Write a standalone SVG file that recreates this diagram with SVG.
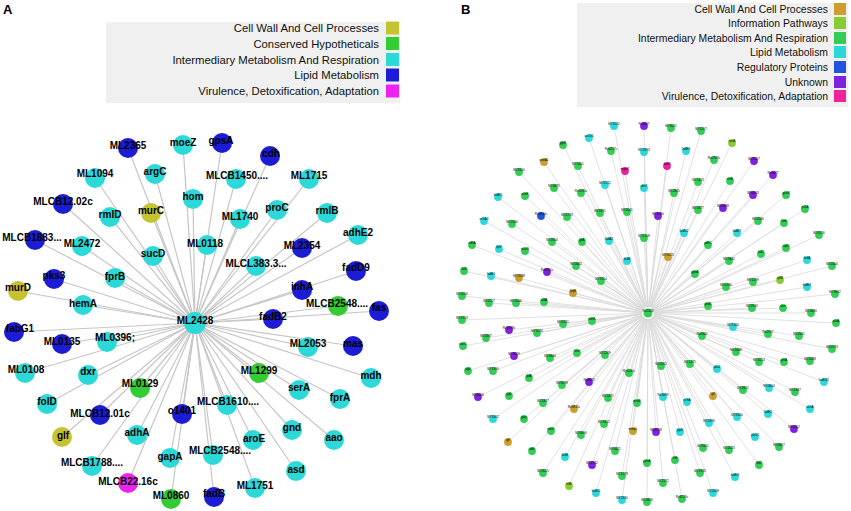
<svg xmlns="http://www.w3.org/2000/svg" width="851" height="511" viewBox="0 0 851 511">
<style>
.ea{stroke:#c6c6c6;stroke-width:1.2}
.eb{stroke:#d9d9d9;stroke-width:0.8}
.la{font-family:"Liberation Sans",Arial,sans-serif;font-weight:bold;font-size:10px;text-anchor:middle;fill:#000}
.lb{font-family:"Liberation Sans",Arial,sans-serif;font-size:3.2px;text-anchor:middle;fill:#000}
.lgA{font-family:"Liberation Sans",Arial,sans-serif;font-size:11.3px;text-anchor:end;fill:#111}
.lgB{font-family:"Liberation Sans",Arial,sans-serif;font-size:10.4px;text-anchor:end;fill:#111}
.pl{font-family:"Liberation Sans",Arial,sans-serif;font-weight:bold;font-size:13px;fill:#000}
.ol{fill:#c6c332}.gr{fill:#33cc33}.cy{fill:#2bd9d9}.bu{fill:#1c1cd6}.mg{fill:#ee22ee}
.Bo{fill:#c9a030}.Bl{fill:#88cc33}.Bg{fill:#33cc55}.Bc{fill:#2bd9d9}.Bb{fill:#2255dd}.Bp{fill:#8022dd}.Bm{fill:#ee2299}
.na circle{r:10px}
.nb circle{r:3.9px}
</style>
<rect width="851" height="511" fill="#fff"/>
<text class="pl" x="3" y="14">A</text>
<text class="pl" x="461" y="14">B</text>
<g id="legendA">
<rect x="106" y="22" width="294" height="81" fill="#f0f0f0"/>
<text class="lgA" x="379" y="32">Cell Wall And Cell Processes</text><rect x="386" y="21.5" width="13" height="13" class="ol"/>
<text class="lgA" x="379" y="47.5">Conserved Hypotheticals</text><rect x="386" y="37" width="13" height="13" class="gr"/>
<text class="lgA" x="379" y="63.5">Intermediary Metabolism And Respiration</text><rect x="386" y="53" width="13" height="13" class="cy"/>
<text class="lgA" x="379" y="79">Lipid Metabolism</text><rect x="386" y="68.5" width="13" height="13" class="bu"/>
<text class="lgA" x="379" y="95">Virulence, Detoxification, Adaptation</text><rect x="386" y="84.5" width="13" height="13" class="mg"/>
</g>
<g id="legendB">
<rect x="577" y="3" width="271" height="104" fill="#f0f0f0"/>
<text class="lgB" x="828" y="12.5">Cell Wall And Cell Processes</text><rect x="834" y="3" width="12" height="12" class="Bo"/>
<text class="lgB" x="828" y="26.5">Information Pathways</text><rect x="834" y="17" width="12" height="12" class="Bl"/>
<text class="lgB" x="828" y="41.5">Intermediary Metabolism And Respiration</text><rect x="834" y="32" width="12" height="12" class="Bg"/>
<text class="lgB" x="828" y="55.5">Lipid Metabolism</text><rect x="834" y="46" width="12" height="12" class="Bc"/>
<text class="lgB" x="828" y="70.5">Regulatory Proteins</text><rect x="834" y="61" width="12" height="12" class="Bb"/>
<text class="lgB" x="828" y="85.5">Unknown</text><rect x="834" y="76" width="12" height="12" class="Bp"/>
<text class="lgB" x="828" y="99.5">Virulence, Detoxification, Adaptation</text><rect x="834" y="90" width="12" height="12" class="Bm"/>
</g>
<g id="connectorsA" class="ea">
<line x1="195" y1="323" x2="128" y2="148"/><line x1="195" y1="323" x2="183" y2="145"/><line x1="195" y1="323" x2="222" y2="143"/><line x1="195" y1="323" x2="270" y2="156"/>
<line x1="195" y1="323" x2="95" y2="178"/><line x1="195" y1="323" x2="155" y2="174"/><line x1="195" y1="323" x2="236" y2="179"/><line x1="195" y1="323" x2="309" y2="179"/>
<line x1="195" y1="323" x2="193" y2="199"/><line x1="195" y1="323" x2="63" y2="204"/><line x1="195" y1="323" x2="110" y2="217"/><line x1="195" y1="323" x2="151" y2="213"/>
<line x1="195" y1="323" x2="240" y2="219"/><line x1="195" y1="323" x2="277" y2="210"/><line x1="195" y1="323" x2="327" y2="213"/><line x1="195" y1="323" x2="358" y2="235"/>
<line x1="195" y1="323" x2="35" y2="240"/><line x1="195" y1="323" x2="82" y2="246"/><line x1="195" y1="323" x2="207" y2="245"/><line x1="195" y1="323" x2="302" y2="248"/>
<line x1="195" y1="323" x2="153" y2="256"/><line x1="195" y1="323" x2="256" y2="266"/><line x1="195" y1="323" x2="356" y2="271"/><line x1="195" y1="323" x2="54" y2="279"/>
<line x1="195" y1="323" x2="115" y2="278"/><line x1="195" y1="323" x2="302" y2="290"/><line x1="195" y1="323" x2="338" y2="306"/><line x1="195" y1="323" x2="379" y2="311"/>
<line x1="195" y1="323" x2="18" y2="291"/><line x1="195" y1="323" x2="83" y2="305"/><line x1="195" y1="323" x2="273" y2="319"/><line x1="195" y1="323" x2="14" y2="332"/>
<line x1="195" y1="323" x2="62" y2="344"/><line x1="195" y1="323" x2="107" y2="342"/><line x1="195" y1="323" x2="308" y2="347"/><line x1="195" y1="323" x2="353" y2="346"/>
<line x1="195" y1="323" x2="25" y2="373"/><line x1="195" y1="323" x2="88" y2="375"/><line x1="195" y1="323" x2="140" y2="388"/><line x1="195" y1="323" x2="259" y2="373"/>
<line x1="195" y1="323" x2="371" y2="378"/><line x1="195" y1="323" x2="47" y2="404"/><line x1="195" y1="323" x2="299" y2="390"/><line x1="195" y1="323" x2="340" y2="399"/>
<line x1="195" y1="323" x2="100" y2="415"/><line x1="195" y1="323" x2="182" y2="414"/><line x1="195" y1="323" x2="227" y2="405"/><line x1="195" y1="323" x2="292" y2="430"/>
<line x1="195" y1="323" x2="62" y2="437"/><line x1="195" y1="323" x2="137" y2="435"/><line x1="195" y1="323" x2="253" y2="440"/><line x1="195" y1="323" x2="334" y2="440"/>
<line x1="195" y1="323" x2="92" y2="466"/><line x1="195" y1="323" x2="170" y2="458"/><line x1="195" y1="323" x2="213" y2="455"/><line x1="195" y1="323" x2="296" y2="471"/>
<line x1="195" y1="323" x2="128" y2="483"/><line x1="195" y1="323" x2="171" y2="499"/><line x1="195" y1="323" x2="214" y2="497"/><line x1="195" y1="323" x2="255" y2="488"/>
</g>
<g id="nodesA" class="na">
<g id="a_ML2365"><circle cx="128" cy="148" class="bu"/><text class="la" x="128" y="148.5">ML2365</text></g>
<g id="a_moeZ"><circle cx="183" cy="145" class="cy"/><text class="la" x="183" y="145.5">moeZ</text></g>
<g id="a_gpsA"><circle cx="222" cy="143" class="bu"/><text class="la" x="221" y="143.5">gpsA</text></g>
<g id="a_cdh"><circle cx="270" cy="156" class="bu"/><text class="la" x="271" y="156.5">cdh</text></g>
<g id="a_ML1094"><circle cx="95" cy="178" class="cy"/><text class="la" x="95" y="176.5">ML1094</text></g>
<g id="a_argC"><circle cx="155" cy="174" class="cy"/><text class="la" x="155" y="174.5">argC</text></g>
<g id="a_MLCB1450"><circle cx="236" cy="179" class="cy"/><text class="la" x="237" y="178.5">MLCB1450....</text></g>
<g id="a_ML1715"><circle cx="309" cy="179" class="cy"/><text class="la" x="309" y="178.5">ML1715</text></g>
<g id="a_hom"><circle cx="193" cy="199" class="cy"/><text class="la" x="193" y="199.5">hom</text></g>
<g id="a_MLCB1202c"><circle cx="63" cy="204" class="bu"/><text class="la" x="63" y="204.5">MLCB12.02c</text></g>
<g id="a_rmlD"><circle cx="110" cy="217" class="cy"/><text class="la" x="110" y="217.5">rmlD</text></g>
<g id="a_murC"><circle cx="151" cy="213" class="ol"/><text class="la" x="151" y="213.5">murC</text></g>
<g id="a_ML1740"><circle cx="240" cy="219" class="cy"/><text class="la" x="240" y="219.5">ML1740</text></g>
<g id="a_proC"><circle cx="277" cy="210" class="cy"/><text class="la" x="277" y="210.5">proC</text></g>
<g id="a_rmlB"><circle cx="327" cy="213" class="cy"/><text class="la" x="327" y="213.5">rmlB</text></g>
<g id="a_adhE2"><circle cx="358" cy="235" class="cy"/><text class="la" x="358" y="235.5">adhE2</text></g>
<g id="a_MLCB1883"><circle cx="35" cy="240" class="bu"/><text class="la" x="32" y="240.5">MLCB1883...</text></g>
<g id="a_ML2472"><circle cx="82" cy="246" class="cy"/><text class="la" x="82" y="246.5">ML2472</text></g>
<g id="a_ML0118"><circle cx="207" cy="245" class="cy"/><text class="la" x="205" y="246.5">ML0118</text></g>
<g id="a_ML2354"><circle cx="302" cy="248" class="bu"/><text class="la" x="302" y="248.5">ML2354</text></g>
<g id="a_sucD"><circle cx="153" cy="256" class="cy"/><text class="la" x="153" y="256.5">sucD</text></g>
<g id="a_MLCL3833"><circle cx="256" cy="266" class="cy"/><text class="la" x="256" y="266.5">MLCL383.3...</text></g>
<g id="a_fadD9"><circle cx="356" cy="271" class="bu"/><text class="la" x="356" y="270.5">fadD9</text></g>
<g id="a_pks3"><circle cx="54" cy="279" class="bu"/><text class="la" x="54" y="278.5">pks3</text></g>
<g id="a_fprB"><circle cx="115" cy="278" class="cy"/><text class="la" x="115" y="279.5">fprB</text></g>
<g id="a_inhA"><circle cx="302" cy="290" class="bu"/><text class="la" x="302" y="289.5">inhA</text></g>
<g id="a_MLCB2548g"><circle cx="338" cy="306" class="gr"/><text class="la" x="337" y="306.5">MLCB2548....</text></g>
<g id="a_fas"><circle cx="379" cy="311" class="bu"/><text class="la" x="379" y="310.5">fas</text></g>
<g id="a_murD"><circle cx="18" cy="291" class="ol"/><text class="la" x="18" y="290.5">murD</text></g>
<g id="a_hemA"><circle cx="83" cy="305" class="cy"/><text class="la" x="83" y="306.5">hemA</text></g>
<g id="a_ML2428"><circle cx="195" cy="323" r="11" class="cy" style="r:11px"/><text class="la" x="195" y="323.5">ML2428</text></g>
<g id="a_fadB2"><circle cx="273" cy="319" class="bu"/><text class="la" x="273" y="319.5">fadB2</text></g>
<g id="a_fabG1"><circle cx="14" cy="332" class="bu"/><text class="la" x="20" y="331.5">fabG1</text></g>
<g id="a_ML0135"><circle cx="62" cy="344" class="bu"/><text class="la" x="62" y="344.5">ML0135</text></g>
<g id="a_ML0396"><circle cx="107" cy="342" class="cy"/><text class="la" x="115" y="340.5">ML0396;</text></g>
<g id="a_ML2053"><circle cx="308" cy="347" class="cy"/><text class="la" x="308" y="346.5">ML2053</text></g>
<g id="a_mas"><circle cx="353" cy="346" class="bu"/><text class="la" x="353" y="346.5">mas</text></g>
<g id="a_ML0108"><circle cx="25" cy="373" class="cy"/><text class="la" x="26" y="372.5">ML0108</text></g>
<g id="a_dxr"><circle cx="88" cy="375" class="cy"/><text class="la" x="88" y="374.5">dxr</text></g>
<g id="a_ML0129"><circle cx="140" cy="388" class="gr"/><text class="la" x="140" y="386.5">ML0129</text></g>
<g id="a_ML1299"><circle cx="259" cy="373" class="gr"/><text class="la" x="259" y="373.5">ML1299</text></g>
<g id="a_mdh"><circle cx="371" cy="378" class="cy"/><text class="la" x="371" y="378.5">mdh</text></g>
<g id="a_folD"><circle cx="47" cy="404" class="cy"/><text class="la" x="47" y="404.5">folD</text></g>
<g id="a_serA"><circle cx="299" cy="390" class="cy"/><text class="la" x="299" y="390.5">serA</text></g>
<g id="a_fprA"><circle cx="340" cy="399" class="cy"/><text class="la" x="340" y="400.5">fprA</text></g>
<g id="a_MLCB1201c"><circle cx="100" cy="415" class="bu"/><text class="la" x="100" y="416.5">MLCB12.01c</text></g>
<g id="a_o1401"><circle cx="182" cy="414" class="bu"/><text class="la" x="182" y="413.5">o1401</text></g>
<g id="a_MLCB1610"><circle cx="227" cy="405" class="cy"/><text class="la" x="228" y="404.5">MLCB1610....</text></g>
<g id="a_gnd"><circle cx="292" cy="430" class="cy"/><text class="la" x="292" y="430.5">gnd</text></g>
<g id="a_glf"><circle cx="62" cy="437" class="ol"/><text class="la" x="63" y="438.5">glf</text></g>
<g id="a_adhA"><circle cx="137" cy="435" class="cy"/><text class="la" x="137" y="435.5">adhA</text></g>
<g id="a_aroE"><circle cx="253" cy="440" class="cy"/><text class="la" x="254" y="441.5">aroE</text></g>
<g id="a_aao"><circle cx="334" cy="440" class="cy"/><text class="la" x="334" y="440.5">aao</text></g>
<g id="a_MLCB1788"><circle cx="92" cy="466" class="cy"/><text class="la" x="92" y="465.5">MLCB1788....</text></g>
<g id="a_gapA"><circle cx="170" cy="458" class="cy"/><text class="la" x="170" y="459.5">gapA</text></g>
<g id="a_MLCB2548c"><circle cx="213" cy="455" class="cy"/><text class="la" x="220" y="453.5">MLCB2548....</text></g>
<g id="a_asd"><circle cx="296" cy="471" class="cy"/><text class="la" x="296" y="472.5">asd</text></g>
<g id="a_MLCB2216c"><circle cx="128" cy="483" class="mg"/><text class="la" x="128" y="484.5">MLCB22.16c</text></g>
<g id="a_ML0860"><circle cx="171" cy="499" class="gr"/><text class="la" x="171" y="498.5">ML0860</text></g>
<g id="a_fadB"><circle cx="214" cy="497" class="bu"/><text class="la" x="214" y="496.5">fadB</text></g>
<g id="a_ML1751"><circle cx="255" cy="488" class="cy"/><text class="la" x="255" y="488.5">ML1751</text></g>
</g>
<g id="connectorsB" class="eb">
<line x1="648" y1="313" x2="614" y2="126"/><line x1="648" y1="313" x2="644" y2="126"/><line x1="648" y1="313" x2="589" y2="138"/><line x1="648" y1="313" x2="563" y2="145"/><line x1="648" y1="313" x2="611" y2="151"/><line x1="648" y1="313" x2="644" y2="152"/><line x1="648" y1="313" x2="544" y2="162"/><line x1="648" y1="313" x2="578" y2="166"/><line x1="648" y1="313" x2="625" y2="171"/><line x1="648" y1="313" x2="519" y2="172"/>
<line x1="648" y1="313" x2="554" y2="188"/><line x1="648" y1="313" x2="605" y2="185"/><line x1="648" y1="313" x2="644" y2="188"/><line x1="648" y1="313" x2="581" y2="193"/><line x1="648" y1="313" x2="525" y2="196"/><line x1="648" y1="313" x2="498" y2="197"/><line x1="648" y1="313" x2="541" y2="216"/><line x1="648" y1="313" x2="567" y2="217"/><line x1="648" y1="313" x2="600" y2="213"/><line x1="648" y1="313" x2="627" y2="212"/>
<line x1="648" y1="313" x2="484" y2="221"/><line x1="648" y1="313" x2="512" y2="224"/><line x1="648" y1="313" x2="644" y2="238"/><line x1="648" y1="313" x2="552" y2="242"/><line x1="648" y1="313" x2="582" y2="242"/><line x1="648" y1="313" x2="609" y2="241"/><line x1="648" y1="313" x2="472" y2="245"/><line x1="648" y1="313" x2="499" y2="249"/><line x1="648" y1="313" x2="525" y2="251"/><line x1="648" y1="313" x2="627" y2="261"/>
<line x1="648" y1="313" x2="576" y2="266"/><line x1="648" y1="313" x2="547" y2="272"/><line x1="648" y1="313" x2="464" y2="271"/><line x1="648" y1="313" x2="491" y2="276"/><line x1="648" y1="313" x2="519" y2="278"/><line x1="648" y1="313" x2="601" y2="281"/><line x1="648" y1="313" x2="573" y2="293"/><line x1="648" y1="313" x2="462" y2="296"/><line x1="648" y1="313" x2="489" y2="303"/><line x1="648" y1="313" x2="516" y2="303"/>
<line x1="648" y1="313" x2="544" y2="302"/><line x1="648" y1="313" x2="671" y2="128"/><line x1="648" y1="313" x2="701" y2="131"/><line x1="648" y1="313" x2="732" y2="143"/><line x1="648" y1="313" x2="686" y2="151"/><line x1="648" y1="313" x2="714" y2="160"/><line x1="648" y1="313" x2="754" y2="161"/><line x1="648" y1="313" x2="667" y2="166"/><line x1="648" y1="313" x2="773" y2="175"/><line x1="648" y1="313" x2="698" y2="182"/>
<line x1="648" y1="313" x2="730" y2="181"/><line x1="648" y1="313" x2="674" y2="193"/><line x1="648" y1="313" x2="753" y2="195"/><line x1="648" y1="313" x2="786" y2="195"/><line x1="648" y1="313" x2="658" y2="216"/><line x1="648" y1="313" x2="698" y2="210"/><line x1="648" y1="313" x2="723" y2="208"/><line x1="648" y1="313" x2="805" y2="209"/><line x1="648" y1="313" x2="758" y2="221"/><line x1="648" y1="313" x2="784" y2="223"/>
<line x1="648" y1="313" x2="684" y2="233"/><line x1="648" y1="313" x2="737" y2="233"/><line x1="648" y1="313" x2="819" y2="235"/><line x1="648" y1="313" x2="708" y2="245"/><line x1="648" y1="313" x2="786" y2="248"/><line x1="648" y1="313" x2="668" y2="257"/><line x1="648" y1="313" x2="729" y2="261"/><line x1="648" y1="313" x2="761" y2="254"/><line x1="648" y1="313" x2="807" y2="260"/><line x1="648" y1="313" x2="832" y2="266"/>
<line x1="648" y1="313" x2="695" y2="274"/><line x1="648" y1="313" x2="780" y2="280"/><line x1="648" y1="313" x2="753" y2="282"/><line x1="648" y1="313" x2="726" y2="287"/><line x1="648" y1="313" x2="807" y2="287"/><line x1="648" y1="313" x2="835" y2="294"/><line x1="648" y1="313" x2="708" y2="306"/><line x1="648" y1="313" x2="752" y2="308"/><line x1="648" y1="313" x2="783" y2="308"/><line x1="648" y1="313" x2="462" y2="320"/>
<line x1="648" y1="313" x2="509" y2="330"/><line x1="648" y1="313" x2="563" y2="324"/><line x1="648" y1="313" x2="592" y2="321"/><line x1="648" y1="313" x2="486" y2="338"/><line x1="648" y1="313" x2="537" y2="333"/><line x1="648" y1="313" x2="463" y2="346"/><line x1="648" y1="313" x2="514" y2="356"/><line x1="648" y1="313" x2="550" y2="358"/><line x1="648" y1="313" x2="577" y2="353"/><line x1="648" y1="313" x2="605" y2="355"/>
<line x1="648" y1="313" x2="468" y2="371"/><line x1="648" y1="313" x2="493" y2="371"/><line x1="648" y1="313" x2="529" y2="378"/><line x1="648" y1="313" x2="562" y2="385"/><line x1="648" y1="313" x2="589" y2="382"/><line x1="648" y1="313" x2="629" y2="373"/><line x1="648" y1="313" x2="478" y2="397"/><line x1="648" y1="313" x2="509" y2="396"/><line x1="648" y1="313" x2="543" y2="403"/><line x1="648" y1="313" x2="574" y2="409"/>
<line x1="648" y1="313" x2="608" y2="398"/><line x1="648" y1="313" x2="637" y2="403"/><line x1="648" y1="313" x2="493" y2="419"/><line x1="648" y1="313" x2="524" y2="419"/><line x1="648" y1="313" x2="551" y2="431"/><line x1="648" y1="313" x2="581" y2="435"/><line x1="648" y1="313" x2="604" y2="424"/><line x1="648" y1="313" x2="633" y2="431"/><line x1="648" y1="313" x2="508" y2="442"/><line x1="648" y1="313" x2="532" y2="451"/>
<line x1="648" y1="313" x2="565" y2="457"/><line x1="648" y1="313" x2="592" y2="465"/><line x1="648" y1="313" x2="615" y2="451"/><line x1="648" y1="313" x2="647" y2="463"/><line x1="648" y1="313" x2="543" y2="473"/><line x1="648" y1="313" x2="622" y2="476"/><line x1="648" y1="313" x2="569" y2="486"/><line x1="648" y1="313" x2="596" y2="493"/><line x1="648" y1="313" x2="622" y2="500"/><line x1="648" y1="313" x2="647" y2="502"/>
<line x1="648" y1="313" x2="811" y2="313"/><line x1="648" y1="313" x2="836" y2="323"/><line x1="648" y1="313" x2="733" y2="327"/><line x1="648" y1="313" x2="768" y2="334"/><line x1="648" y1="313" x2="799" y2="336"/><line x1="648" y1="313" x2="702" y2="336"/><line x1="648" y1="313" x2="832" y2="349"/><line x1="648" y1="313" x2="736" y2="352"/><line x1="648" y1="313" x2="759" y2="362"/><line x1="648" y1="313" x2="784" y2="362"/>
<line x1="648" y1="313" x2="810" y2="361"/><line x1="648" y1="313" x2="661" y2="366"/><line x1="648" y1="313" x2="690" y2="364"/><line x1="648" y1="313" x2="717" y2="369"/><line x1="648" y1="313" x2="824" y2="382"/><line x1="648" y1="313" x2="743" y2="390"/><line x1="648" y1="313" x2="769" y2="388"/><line x1="648" y1="313" x2="795" y2="392"/><line x1="648" y1="313" x2="663" y2="397"/><line x1="648" y1="313" x2="687" y2="402"/>
<line x1="648" y1="313" x2="713" y2="396"/><line x1="648" y1="313" x2="810" y2="409"/><line x1="648" y1="313" x2="737" y2="417"/><line x1="648" y1="313" x2="768" y2="414"/><line x1="648" y1="313" x2="709" y2="423"/><line x1="648" y1="313" x2="656" y2="432"/><line x1="648" y1="313" x2="680" y2="432"/><line x1="648" y1="313" x2="794" y2="429"/><line x1="648" y1="313" x2="755" y2="437"/><line x1="648" y1="313" x2="703" y2="448"/>
<line x1="648" y1="313" x2="729" y2="450"/><line x1="648" y1="313" x2="779" y2="447"/><line x1="648" y1="313" x2="675" y2="460"/><line x1="648" y1="313" x2="759" y2="465"/><line x1="648" y1="313" x2="700" y2="473"/><line x1="648" y1="313" x2="735" y2="477"/><line x1="648" y1="313" x2="663" y2="483"/><line x1="648" y1="313" x2="713" y2="493"/><line x1="648" y1="313" x2="682" y2="499"/>
</g>
<g id="nodesB" class="nb">
<g id="b1"><circle cx="614" cy="126" class="Bc"/><text class="lb" x="614" y="125">MT1032</text></g>
<g id="b2"><circle cx="644" cy="126" class="Bp"/><text class="lb" x="644" y="125">Rv3407</text></g>
<g id="b3"><circle cx="589" cy="138" class="Bc"/><text class="lb" x="589" y="137">accD6</text></g>
<g id="b4"><circle cx="563" cy="145" class="Bg"/><text class="lb" x="563" y="144">glpK</text></g>
<g id="b5"><circle cx="611" cy="151" class="Bg"/><text class="lb" x="611" y="150">Rv0217c</text></g>
<g id="b6"><circle cx="644" cy="152" class="Bc"/><text class="lb" x="644" y="151">MT2993</text></g>
<g id="b7"><circle cx="544" cy="162" class="Bo"/><text class="lb" x="544" y="161">ponA1</text></g>
<g id="b8"><circle cx="578" cy="166" class="Bg"/><text class="lb" x="578" y="165">MT1401</text></g>
<g id="b9"><circle cx="625" cy="171" class="Bm"/><text class="lb" x="625" y="170">mymT</text></g>
<g id="b10"><circle cx="519" cy="172" class="Bg"/><text class="lb" x="519" y="171">MT3150</text></g>
<g id="b11"><circle cx="554" cy="188" class="Bg"/><text class="lb" x="554" y="187">MT0875</text></g>
<g id="b12"><circle cx="605" cy="185" class="Bc"/><text class="lb" x="605" y="184">MT2211</text></g>
<g id="b13"><circle cx="644" cy="188" class="Bc"/><text class="lb" x="644" y="187">pks7</text></g>
<g id="b14"><circle cx="581" cy="193" class="Bg"/><text class="lb" x="581" y="192">Rv1280c</text></g>
<g id="b15"><circle cx="525" cy="196" class="Bg"/><text class="lb" x="525" y="195">aceE</text></g>
<g id="b16"><circle cx="498" cy="197" class="Bc"/><text class="lb" x="498" y="196">fadE5</text></g>
<g id="b17"><circle cx="541" cy="216" class="Bb"/><text class="lb" x="541" y="215">Rv3060c</text></g>
<g id="b18"><circle cx="567" cy="217" class="Bg"/><text class="lb" x="567" y="216">MT1733</text></g>
<g id="b19"><circle cx="600" cy="213" class="Bg"/><text class="lb" x="600" y="212">MT3391</text></g>
<g id="b20"><circle cx="627" cy="212" class="Bg"/><text class="lb" x="627" y="211">MT0541</text></g>
<g id="b21"><circle cx="484" cy="221" class="Bc"/><text class="lb" x="484" y="220">echA3</text></g>
<g id="b22"><circle cx="512" cy="224" class="Bg"/><text class="lb" x="512" y="223">MT2580</text></g>
<g id="b23"><circle cx="644" cy="238" class="Bg"/><text class="lb" x="644" y="237">MT1108</text></g>
<g id="b24"><circle cx="552" cy="242" class="Bg"/><text class="lb" x="552" y="241">MT3904</text></g>
<g id="b25"><circle cx="582" cy="242" class="Bg"/><text class="lb" x="582" y="241">gltA</text></g>
<g id="b26"><circle cx="609" cy="241" class="Bc"/><text class="lb" x="609" y="240">fadA2</text></g>
<g id="b27"><circle cx="472" cy="245" class="Bg"/><text class="lb" x="472" y="244">sdhA</text></g>
<g id="b28"><circle cx="499" cy="249" class="Bc"/><text class="lb" x="499" y="248">lipV</text></g>
<g id="b29"><circle cx="525" cy="251" class="Bg"/><text class="lb" x="525" y="250">nuoG</text></g>
<g id="b30"><circle cx="627" cy="261" class="Bc"/><text class="lb" x="627" y="260">fadB</text></g>
<g id="b31"><circle cx="576" cy="266" class="Bg"/><text class="lb" x="576" y="265">MT0662</text></g>
<g id="b32"><circle cx="547" cy="272" class="Bp"/><text class="lb" x="547" y="271">Rv2161c</text></g>
<g id="b33"><circle cx="464" cy="271" class="Bg"/><text class="lb" x="464" y="270">ilvB</text></g>
<g id="b34"><circle cx="491" cy="276" class="Bc"/><text class="lb" x="491" y="275">fadE1</text></g>
<g id="b35"><circle cx="519" cy="278" class="Bo"/><text class="lb" x="519" y="277">MT3288</text></g>
<g id="b36"><circle cx="601" cy="281" class="Bg"/><text class="lb" x="601" y="280">MT1914</text></g>
<g id="b37"><circle cx="573" cy="293" class="Bo"/><text class="lb" x="573" y="292">lpqB</text></g>
<g id="b38"><circle cx="462" cy="296" class="Bg"/><text class="lb" x="462" y="295">MT2050</text></g>
<g id="b39"><circle cx="489" cy="303" class="Bg"/><text class="lb" x="489" y="302">MT0217</text></g>
<g id="b40"><circle cx="516" cy="303" class="Bg"/><text class="lb" x="516" y="302">MT1566</text></g>
<g id="b41"><circle cx="544" cy="302" class="Bg"/><text class="lb" x="544" y="301">aldA</text></g>
<g id="b42"><circle cx="671" cy="128" class="Bg"/><text class="lb" x="671" y="127">MT3021</text></g>
<g id="b43"><circle cx="701" cy="131" class="Bg"/><text class="lb" x="701" y="130">MT1207</text></g>
<g id="b44"><circle cx="732" cy="143" class="Bl"/><text class="lb" x="732" y="142">rpsA</text></g>
<g id="b45"><circle cx="686" cy="151" class="Bc"/><text class="lb" x="686" y="150">fadE9</text></g>
<g id="b46"><circle cx="714" cy="160" class="Bg"/><text class="lb" x="714" y="159">Rv0763c</text></g>
<g id="b47"><circle cx="754" cy="161" class="Bp"/><text class="lb" x="754" y="160">MT2117</text></g>
<g id="b48"><circle cx="667" cy="166" class="Bm"/><text class="lb" x="667" y="165">katG</text></g>
<g id="b49"><circle cx="773" cy="175" class="Bp"/><text class="lb" x="773" y="174">Rv0877</text></g>
<g id="b50"><circle cx="698" cy="182" class="Bg"/><text class="lb" x="698" y="181">MT1423</text></g>
<g id="b51"><circle cx="730" cy="181" class="Bg"/><text class="lb" x="730" y="180">nirB</text></g>
<g id="b52"><circle cx="674" cy="193" class="Bg"/><text class="lb" x="674" y="192">MT2845</text></g>
<g id="b53"><circle cx="753" cy="195" class="Bp"/><text class="lb" x="753" y="194">MT0913</text></g>
<g id="b54"><circle cx="786" cy="195" class="Bg"/><text class="lb" x="786" y="194">gcvB</text></g>
<g id="b55"><circle cx="658" cy="216" class="Bp"/><text class="lb" x="658" y="215">MT1580</text></g>
<g id="b56"><circle cx="698" cy="210" class="Bg"/><text class="lb" x="698" y="209">MT3377</text></g>
<g id="b57"><circle cx="723" cy="208" class="Bp"/><text class="lb" x="723" y="207">MT0498</text></g>
<g id="b58"><circle cx="805" cy="209" class="Bg"/><text class="lb" x="805" y="208">pckA</text></g>
<g id="b59"><circle cx="758" cy="221" class="Bg"/><text class="lb" x="758" y="220">MT2266</text></g>
<g id="b60"><circle cx="784" cy="223" class="Bg"/><text class="lb" x="784" y="222">fum</text></g>
<g id="b61"><circle cx="684" cy="233" class="Bc"/><text class="lb" x="684" y="232">fadD2</text></g>
<g id="b62"><circle cx="737" cy="233" class="Bc"/><text class="lb" x="737" y="232">fadE7</text></g>
<g id="b63"><circle cx="819" cy="235" class="Bg"/><text class="lb" x="819" y="234">MT3716</text></g>
<g id="b64"><circle cx="708" cy="245" class="Bg"/><text class="lb" x="708" y="244">pdhC</text></g>
<g id="b65"><circle cx="786" cy="248" class="Bg"/><text class="lb" x="786" y="247">atpD</text></g>
<g id="b66"><circle cx="668" cy="257" class="Bo"/><text class="lb" x="668" y="256">MT0125</text></g>
<g id="b67"><circle cx="729" cy="261" class="Bg"/><text class="lb" x="729" y="260">MT1845</text></g>
<g id="b68"><circle cx="761" cy="254" class="Bg"/><text class="lb" x="761" y="253">icd2</text></g>
<g id="b69"><circle cx="807" cy="260" class="Bc"/><text class="lb" x="807" y="259">fadA</text></g>
<g id="b70"><circle cx="832" cy="266" class="Bg"/><text class="lb" x="832" y="265">MT2404</text></g>
<g id="b71"><circle cx="695" cy="274" class="Bg"/><text class="lb" x="695" y="273">gpsA</text></g>
<g id="b72"><circle cx="780" cy="280" class="Bl"/><text class="lb" x="780" y="279">rplB</text></g>
<g id="b73"><circle cx="753" cy="282" class="Bg"/><text class="lb" x="753" y="281">MT1299</text></g>
<g id="b74"><circle cx="726" cy="287" class="Bg"/><text class="lb" x="726" y="286">MT0780</text></g>
<g id="b75"><circle cx="807" cy="287" class="Bc"/><text class="lb" x="807" y="286">fadE4</text></g>
<g id="b76"><circle cx="835" cy="294" class="Bg"/><text class="lb" x="835" y="293">MT3642</text></g>
<g id="b77"><circle cx="708" cy="306" class="Bg"/><text class="lb" x="708" y="305">gnd1</text></g>
<g id="b78"><circle cx="752" cy="308" class="Bg"/><text class="lb" x="752" y="307">MT2930</text></g>
<g id="b79"><circle cx="783" cy="308" class="Bg"/><text class="lb" x="783" y="307">acn</text></g>
<g id="b80"><circle cx="462" cy="320" class="Bg"/><text class="lb" x="462" y="319">MT1953</text></g>
<g id="b81"><circle cx="509" cy="330" class="Bp"/><text class="lb" x="509" y="329">Rv1738c</text></g>
<g id="b82"><circle cx="563" cy="324" class="Bg"/><text class="lb" x="563" y="323">MT0311</text></g>
<g id="b83"><circle cx="592" cy="321" class="Bg"/><text class="lb" x="592" y="320">metK</text></g>
<g id="b84"><circle cx="486" cy="338" class="Bg"/><text class="lb" x="486" y="337">MT2687</text></g>
<g id="b85"><circle cx="537" cy="333" class="Bg"/><text class="lb" x="537" y="332">MT1074</text></g>
<g id="b86"><circle cx="463" cy="346" class="Bg"/><text class="lb" x="463" y="345">sucC</text></g>
<g id="b87"><circle cx="514" cy="356" class="Bp"/><text class="lb" x="514" y="355">MT3519</text></g>
<g id="b88"><circle cx="550" cy="358" class="Bg"/><text class="lb" x="550" y="357">MT0644</text></g>
<g id="b89"><circle cx="577" cy="353" class="Bg"/><text class="lb" x="577" y="352">eno</text></g>
<g id="b90"><circle cx="605" cy="355" class="Bg"/><text class="lb" x="605" y="354">MT2209</text></g>
<g id="b91"><circle cx="468" cy="371" class="Bg"/><text class="lb" x="468" y="370">pgk</text></g>
<g id="b92"><circle cx="493" cy="371" class="Bg"/><text class="lb" x="493" y="370">MT1390</text></g>
<g id="b93"><circle cx="529" cy="378" class="Bg"/><text class="lb" x="529" y="377">tpiA</text></g>
<g id="b94"><circle cx="562" cy="385" class="Bg"/><text class="lb" x="562" y="384">MT3078</text></g>
<g id="b95"><circle cx="589" cy="382" class="Bp"/><text class="lb" x="589" y="381">Rv2623</text></g>
<g id="b96"><circle cx="629" cy="373" class="Bg"/><text class="lb" x="629" y="372">Rv1130c</text></g>
<g id="b97"><circle cx="478" cy="397" class="Bp"/><text class="lb" x="478" y="396">MT0156</text></g>
<g id="b98"><circle cx="509" cy="396" class="Bg"/><text class="lb" x="509" y="395">pyk</text></g>
<g id="b99"><circle cx="543" cy="403" class="Bg"/><text class="lb" x="543" y="402">MT1817</text></g>
<g id="b100"><circle cx="574" cy="409" class="Bo"/><text class="lb" x="574" y="408">Rv3835c</text></g>
<g id="b101"><circle cx="608" cy="398" class="Bg"/><text class="lb" x="608" y="397">MT2471</text></g>
<g id="b102"><circle cx="637" cy="403" class="Bg"/><text class="lb" x="637" y="402">mutB</text></g>
<g id="b103"><circle cx="493" cy="419" class="Bc"/><text class="lb" x="493" y="418">MT3302</text></g>
<g id="b104"><circle cx="524" cy="419" class="Bg"/><text class="lb" x="524" y="418">gap</text></g>
<g id="b105"><circle cx="551" cy="431" class="Bg"/><text class="lb" x="551" y="430">narG</text></g>
<g id="b106"><circle cx="581" cy="435" class="Bg"/><text class="lb" x="581" y="434">MT0990</text></g>
<g id="b107"><circle cx="604" cy="424" class="Bg"/><text class="lb" x="604" y="423">MT1612</text></g>
<g id="b108"><circle cx="633" cy="431" class="Bo"/><text class="lb" x="633" y="430">mmpL</text></g>
<g id="b109"><circle cx="508" cy="442" class="Bo"/><text class="lb" x="508" y="441">glf</text></g>
<g id="b110"><circle cx="532" cy="451" class="Bg"/><text class="lb" x="532" y="450">adh</text></g>
<g id="b111"><circle cx="565" cy="457" class="Bc"/><text class="lb" x="565" y="456">fadE</text></g>
<g id="b112"><circle cx="592" cy="465" class="Bp"/><text class="lb" x="592" y="464">MT2742</text></g>
<g id="b113"><circle cx="615" cy="451" class="Bg"/><text class="lb" x="615" y="450">MT0421</text></g>
<g id="b114"><circle cx="647" cy="463" class="Bg"/><text class="lb" x="647" y="462">ppsA</text></g>
<g id="b115"><circle cx="543" cy="473" class="Bg"/><text class="lb" x="543" y="472">MT3055</text></g>
<g id="b116"><circle cx="622" cy="476" class="Bg"/><text class="lb" x="622" y="475">MT1278</text></g>
<g id="b117"><circle cx="569" cy="486" class="Bl"/><text class="lb" x="569" y="485">infB</text></g>
<g id="b118"><circle cx="596" cy="493" class="Bc"/><text class="lb" x="596" y="492">fadD5</text></g>
<g id="b119"><circle cx="622" cy="500" class="Bc"/><text class="lb" x="622" y="499">MT2330</text></g>
<g id="b120"><circle cx="647" cy="502" class="Bg"/><text class="lb" x="647" y="501">MT0896</text></g>
<g id="b121"><circle cx="811" cy="313" class="Bg"/><text class="lb" x="811" y="312">MT3480</text></g>
<g id="b122"><circle cx="836" cy="323" class="Bg"/><text class="lb" x="836" y="322">purA</text></g>
<g id="b123"><circle cx="733" cy="327" class="Bc"/><text class="lb" x="733" y="326">MT1160</text></g>
<g id="b124"><circle cx="768" cy="334" class="Bg"/><text class="lb" x="768" y="333">Rv2917</text></g>
<g id="b125"><circle cx="799" cy="336" class="Bg"/><text class="lb" x="799" y="335">MT2561</text></g>
<g id="b126"><circle cx="702" cy="336" class="Bg"/><text class="lb" x="702" y="335">Rv0462</text></g>
<g id="b127"><circle cx="832" cy="349" class="Bg"/><text class="lb" x="832" y="348">MT0733</text></g>
<g id="b128"><circle cx="736" cy="352" class="Bg"/><text class="lb" x="736" y="351">MT1688</text></g>
<g id="b129"><circle cx="759" cy="362" class="Bg"/><text class="lb" x="759" y="361">MT3214</text></g>
<g id="b130"><circle cx="784" cy="362" class="Bg"/><text class="lb" x="784" y="361">glnA</text></g>
<g id="b131"><circle cx="810" cy="361" class="Bg"/><text class="lb" x="810" y="360">MT2088</text></g>
<g id="b132"><circle cx="661" cy="366" class="Bg"/><text class="lb" x="661" y="365">MT0352</text></g>
<g id="b133"><circle cx="690" cy="364" class="Bg"/><text class="lb" x="690" y="363">MT1471</text></g>
<g id="b134"><circle cx="717" cy="369" class="Bc"/><text class="lb" x="717" y="368">pks2</text></g>
<g id="b135"><circle cx="824" cy="382" class="Bc"/><text class="lb" x="824" y="381">fadD32</text></g>
<g id="b136"><circle cx="743" cy="390" class="Bg"/><text class="lb" x="743" y="389">MT2815</text></g>
<g id="b137"><circle cx="769" cy="388" class="Bc"/><text class="lb" x="769" y="387">MT0604</text></g>
<g id="b138"><circle cx="795" cy="392" class="Bg"/><text class="lb" x="795" y="391">MT1347</text></g>
<g id="b139"><circle cx="663" cy="397" class="Bc"/><text class="lb" x="663" y="396">Rv3089</text></g>
<g id="b140"><circle cx="687" cy="402" class="Bc"/><text class="lb" x="687" y="401">echA</text></g>
<g id="b141"><circle cx="713" cy="396" class="Bo"/><text class="lb" x="713" y="395">glf</text></g>
<g id="b142"><circle cx="810" cy="409" class="Bc"/><text class="lb" x="810" y="408">accA</text></g>
<g id="b143"><circle cx="737" cy="417" class="Bc"/><text class="lb" x="737" y="416">MT3160</text></g>
<g id="b144"><circle cx="768" cy="414" class="Bc"/><text class="lb" x="768" y="413">fadE2</text></g>
<g id="b145"><circle cx="709" cy="423" class="Bc"/><text class="lb" x="709" y="422">MT2496</text></g>
<g id="b146"><circle cx="656" cy="432" class="Bp"/><text class="lb" x="656" y="431">MT0718</text></g>
<g id="b147"><circle cx="680" cy="432" class="Bc"/><text class="lb" x="680" y="431">lppX</text></g>
<g id="b148"><circle cx="794" cy="429" class="Bp"/><text class="lb" x="794" y="428">MT1552</text></g>
<g id="b149"><circle cx="755" cy="437" class="Bc"/><text class="lb" x="755" y="436">pks15</text></g>
<g id="b150"><circle cx="703" cy="448" class="Bg"/><text class="lb" x="703" y="447">MT3611</text></g>
<g id="b151"><circle cx="729" cy="450" class="Bg"/><text class="lb" x="729" y="449">MT2023</text></g>
<g id="b152"><circle cx="779" cy="447" class="Bg"/><text class="lb" x="779" y="446">MT0817</text></g>
<g id="b153"><circle cx="675" cy="460" class="Bg"/><text class="lb" x="675" y="459">ald</text></g>
<g id="b154"><circle cx="759" cy="465" class="Bg"/><text class="lb" x="759" y="464">lldD</text></g>
<g id="b155"><circle cx="700" cy="473" class="Bg"/><text class="lb" x="700" y="472">MT1935</text></g>
<g id="b156"><circle cx="735" cy="477" class="Bc"/><text class="lb" x="735" y="476">fadD3</text></g>
<g id="b157"><circle cx="663" cy="483" class="Bg"/><text class="lb" x="663" y="482">MT2172</text></g>
<g id="b158"><circle cx="713" cy="493" class="Bc"/><text class="lb" x="713" y="492">MT0268</text></g>
<g id="b159"><circle cx="682" cy="499" class="Bg"/><text class="lb" x="682" y="498">Rv3229c</text></g>
<g id="b_center"><circle cx="648" cy="313" r="6.5" fill="#fff" stroke="#cfcfcf" stroke-width="0.8" style="r:6.5px"/><circle cx="648" cy="313" class="Bg" style="r:4.5px"/><text class="lb" x="648" y="312">Rv2428</text></g>
</g>
</svg>
